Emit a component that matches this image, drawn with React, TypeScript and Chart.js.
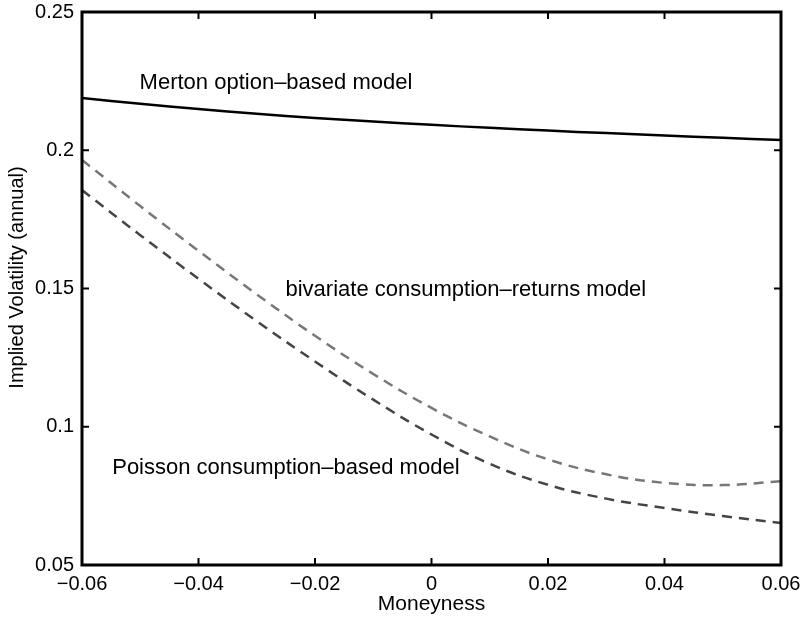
import React, { useEffect, useRef } from "react";
import { Chart, registerables } from "chart.js";

Chart.register(...registerables);

const moneyness = [-0.06, -0.05, -0.04, -0.03, -0.02, -0.01, 0, 0.01, 0.02, 0.03, 0.04, 0.05, 0.06];
const merton = [0.2189, 0.2168, 0.2149, 0.2132, 0.2117, 0.2104, 0.2092, 0.2081, 0.2071, 0.2062, 0.2053, 0.2045, 0.2037];
const bivariate = [0.1965, 0.1798, 0.1636, 0.1479, 0.1329, 0.1191, 0.1068, 0.0965, 0.0882, 0.0828, 0.0797, 0.0789, 0.0803];
const poisson = [0.1856, 0.1693, 0.1535, 0.1382, 0.1236, 0.1098, 0.0972, 0.0866, 0.079, 0.074, 0.0706, 0.0677, 0.0652];

const xTickValues = [-0.06, -0.04, -0.02, 0, 0.02, 0.04, 0.06];
const xTickLabels = ["\u22120.06", "\u22120.04", "\u22120.02", "0", "0.02", "0.04", "0.06"];
const yTickValues = [0.05, 0.1, 0.15, 0.2, 0.25];
const yTickLabels = ["0.05", "0.1", "0.15", "0.2", "0.25"];

const yTitle = "Implied Volatility (annual)";
const annotationTexts = ["Merton option\u2013based model", "bivariate consumption\u2013returns model", "Poisson consumption\u2013based model"];
const annotationX = [-0.0267, 0.0059, -0.025];
const annotationY = [0.2243, 0.1495, 0.0851];

const FONT = "'Liberation Sans', Arial, Helvetica, sans-serif";

const framePlugin = {
  id: "frameAndLabels",
  afterDatasetsDraw(chart: any) {
    const { ctx, chartArea } = chart;
    const xs = chart.scales.x;
    const ys = chart.scales.y;
    const { left, right, top, bottom } = chartArea;
    ctx.save();
    ctx.strokeStyle = "#000";
    ctx.lineWidth = 2;
    const tl = 7;
    ctx.beginPath();
    xTickValues.forEach((v) => {
      const px = xs.getPixelForValue(v);
      ctx.moveTo(px, bottom);
      ctx.lineTo(px, bottom - tl);
      ctx.moveTo(px, top);
      ctx.lineTo(px, top + tl);
    });
    yTickValues.forEach((v) => {
      const py = ys.getPixelForValue(v);
      ctx.moveTo(left, py);
      ctx.lineTo(left + tl, py);
      ctx.moveTo(right, py);
      ctx.lineTo(right - tl, py);
    });
    ctx.stroke();
    ctx.lineWidth = 3;
    ctx.strokeRect(left, top, right - left, bottom - top);

    ctx.fillStyle = "#000";
    ctx.font = `22px ${FONT}`;
    ctx.textAlign = "center";
    ctx.textBaseline = "middle";
    annotationTexts.forEach((t, i) => {
      ctx.fillText(t, xs.getPixelForValue(annotationX[i]), ys.getPixelForValue(annotationY[i]));
    });

    // y axis title
    ctx.font = `20px ${FONT}`;
    ctx.translate(ys.left + 17, (top + bottom) / 2 - 11);
    ctx.rotate(-Math.PI / 2);
    ctx.fillText(yTitle, 0, 0);
    ctx.restore();
  },
};

export default function App() {
  const ref = useRef<HTMLCanvasElement | null>(null);
  useEffect(() => {
    if (!ref.current) return;
    const mk = (vals: number[]) => moneyness.map((x, i) => ({ x, y: vals[i] }));
    const chart = new Chart(ref.current, {
      type: "line",
      data: {
        datasets: [
          {
            label: "Merton option-based model",
            data: mk(merton),
            borderColor: "#000000",
            borderWidth: 2.5,
            pointRadius: 0,
            tension: 0.4,
            fill: false,
          },
          {
            label: "bivariate consumption-returns model",
            data: mk(bivariate),
            borderColor: "#777777",
            borderWidth: 2.5,
            borderDash: [10, 7],
            pointRadius: 0,
            tension: 0.4,
            fill: false,
          },
          {
            label: "Poisson consumption-based model",
            data: mk(poisson),
            borderColor: "#444444",
            borderWidth: 2.5,
            borderDash: [10, 7],
            pointRadius: 0,
            tension: 0.4,
            fill: false,
          },
        ],
      },
      options: {
        responsive: false,
        animation: false,
        devicePixelRatio: 1,
        layout: { padding: { top: 12, right: 25, left: 0, bottom: 0 } },
        plugins: { legend: { display: false }, tooltip: { enabled: false } },
        scales: {
          x: {
            type: "linear",
            min: -0.06,
            max: 0.06,
            afterFit: (s: any) => {
              s.height = 52;
              s.paddingLeft = 0;
              s.paddingRight = 0;
            },
            afterBuildTicks: (s: any) => {
              s.ticks = xTickValues.map((v) => ({ value: v }));
            },
            ticks: {
              padding: 7,
              color: "#000",
              font: { size: 20, family: FONT },
              maxRotation: 0,
              autoSkip: false,
              callback: (v: any) => {
                const i = xTickValues.findIndex((t) => Math.abs(t - Number(v)) < 1e-9);
                return i >= 0 ? xTickLabels[i] : "";
              },
            },
            grid: { display: false, drawTicks: false },
            border: { display: false },
            title: {
              display: true,
              text: "Moneyness",
              color: "#000",
              font: { size: 21, family: FONT },
              padding: { top: 0, bottom: 0 },
            },
          },
          y: {
            type: "linear",
            min: 0.05,
            max: 0.25,
            afterFit: (s: any) => {
              s.width = 82;
              s.paddingTop = 0;
              s.paddingBottom = 0;
            },
            afterBuildTicks: (s: any) => {
              s.ticks = yTickValues.map((v) => ({ value: v }));
            },
            ticks: {
              padding: 8,
              color: "#000",
              font: { size: 20, family: FONT },
              autoSkip: false,
              callback: (v: any) => {
                const i = yTickValues.findIndex((t) => Math.abs(t - Number(v)) < 1e-9);
                return i >= 0 ? yTickLabels[i] : "";
              },
            },
            grid: { display: false, drawTicks: false },
            border: { display: false },
            title: { display: false },
          },
        },
      },
      plugins: [framePlugin],
    });
    return () => chart.destroy();
  }, []);
  return (
    <div style={{ position: "absolute", left: 0, top: 0, width: 806, height: 617, background: "#fff" }}>
      <canvas ref={ref} width={806} height={617} />
    </div>
  );
}
